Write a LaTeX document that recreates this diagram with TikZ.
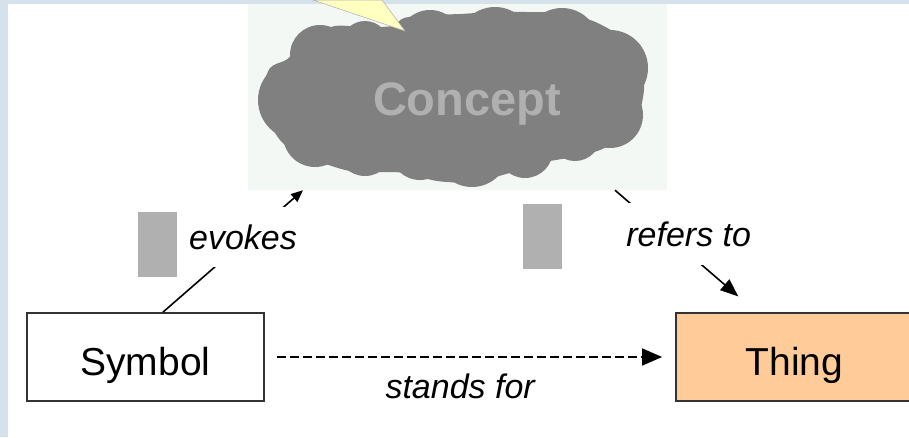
\documentclass[tikz,border=0pt]{standalone}
\usepackage{fontspec}
\setmainfont{Liberation Sans}
\usetikzlibrary{arrows.meta}
\definecolor{franja}{HTML}{D5E2EC}
\definecolor{fondonube}{HTML}{F4F8F4}
\definecolor{nube}{HTML}{808080}
\definecolor{grisclaro}{HTML}{B0B0B0}
\definecolor{amarillo}{HTML}{FFFFC0}
\definecolor{melocoton}{HTML}{FFCC99}
\definecolor{borde}{HTML}{333333}

\begin{document}
\begin{tikzpicture}[x=1pt, y=-1pt,
    caja/.style={draw=borde, line width=1.8pt, minimum width=237pt, minimum height=88pt,
        inner sep=0pt, text height=36pt, text depth=0pt, font=\fontsize{39}{44}\selectfont},
    etiqueta/.style={font=\itshape\fontsize{34}{38}\selectfont, inner sep=0pt},
    flecha/.style={line width=1.6pt}]
    % Marco
    \useasboundingbox (0,0) rectangle (909,437);
    \fill[white] (0,0) rectangle (909,437);
    \fill[franja] (0,0) rectangle (909,4);
    \fill[franja] (0,0) rectangle (8,437);

    % Nube del concepto
    \node[fill=fondonube, minimum width=419pt, minimum height=186pt, inner sep=0pt] (concept) at (457.5,97) {};
    \fill[nube] plot[smooth cycle, tension=0.5] coordinates {
        (262,92) (270,68) (286,60) (297,50) (315,36) (335,26) (365,27) (392,26)
        (404,18) (430,15) (460,14) (493,12) (527,12) (560,13) (593,21) (620,36)
        (634,52) (642,70) (644,90) (638,117) (624,136) (600,150) (573,157) (540,163)
        (513,172) (473,182) (437,181) (407,173) (378,172) (350,171) (323,163) (292,150)
        (280,140) (271,126) (263,110)};
    \foreach \cx/\cy/\r in {298/100/40, 320/55/30, 365/45/24, 430/42/32, 495/45/38,
        562/45/37, 610/68/38, 610/115/33, 575/135/26, 525/150/28, 472/150/37,
        420/150/30, 365/148/28, 315/135/32}
        \fill[nube] (\cx,\cy) circle [radius=\r pt];
    \fill[amarillo, draw=grisclaro, line width=0.5pt] (313,0) -- (405,31) -- (382,0) -- cycle;
    \node[font=\bfseries\fontsize{47}{52}\selectfont, text=grisclaro, anchor=base, inner sep=0pt] (conceptlbl) at (467,115) {Concept};

    % Rectangulos grises
    \fill[grisclaro] (138,212) rectangle (177,277);
    \fill[grisclaro] (523,204) rectangle (562,269);

    % Simbolo y cosa
    \node[caja, fill=white] (symbol) at (145.5,357) {Symbol};
    \node[caja, fill=melocoton] (thing) at (794.5,357) {Thing};

    % Relaciones
    \draw[flecha, -{Triangle[length=12pt,width=10pt]}] ([xshift=17.5pt]symbol.north) --
        node[etiqueta, fill=white, pos=0.614, xshift=-6pt, minimum height=60pt] {evokes}
        ([xshift=-154.5pt]concept.south);
    \draw[flecha, -{Triangle[length=18pt,width=14pt]}, shorten >=24pt] ([xshift=157.5pt]concept.south) --
        node[etiqueta, fill=white, pos=0.362, xshift=22.5pt, minimum height=62pt] {refers to}
        ([xshift=-38pt]thing.north);
    \draw[flecha, dash pattern=on 9pt off 4pt, -{Triangle[length=20pt,width=17pt]}, shorten <=12pt, shorten >=13pt]
        (symbol.east) -- node[etiqueta, anchor=base, pos=0.476, yshift=-41pt] {stands for} (thing.west);
\end{tikzpicture}
\end{document}
